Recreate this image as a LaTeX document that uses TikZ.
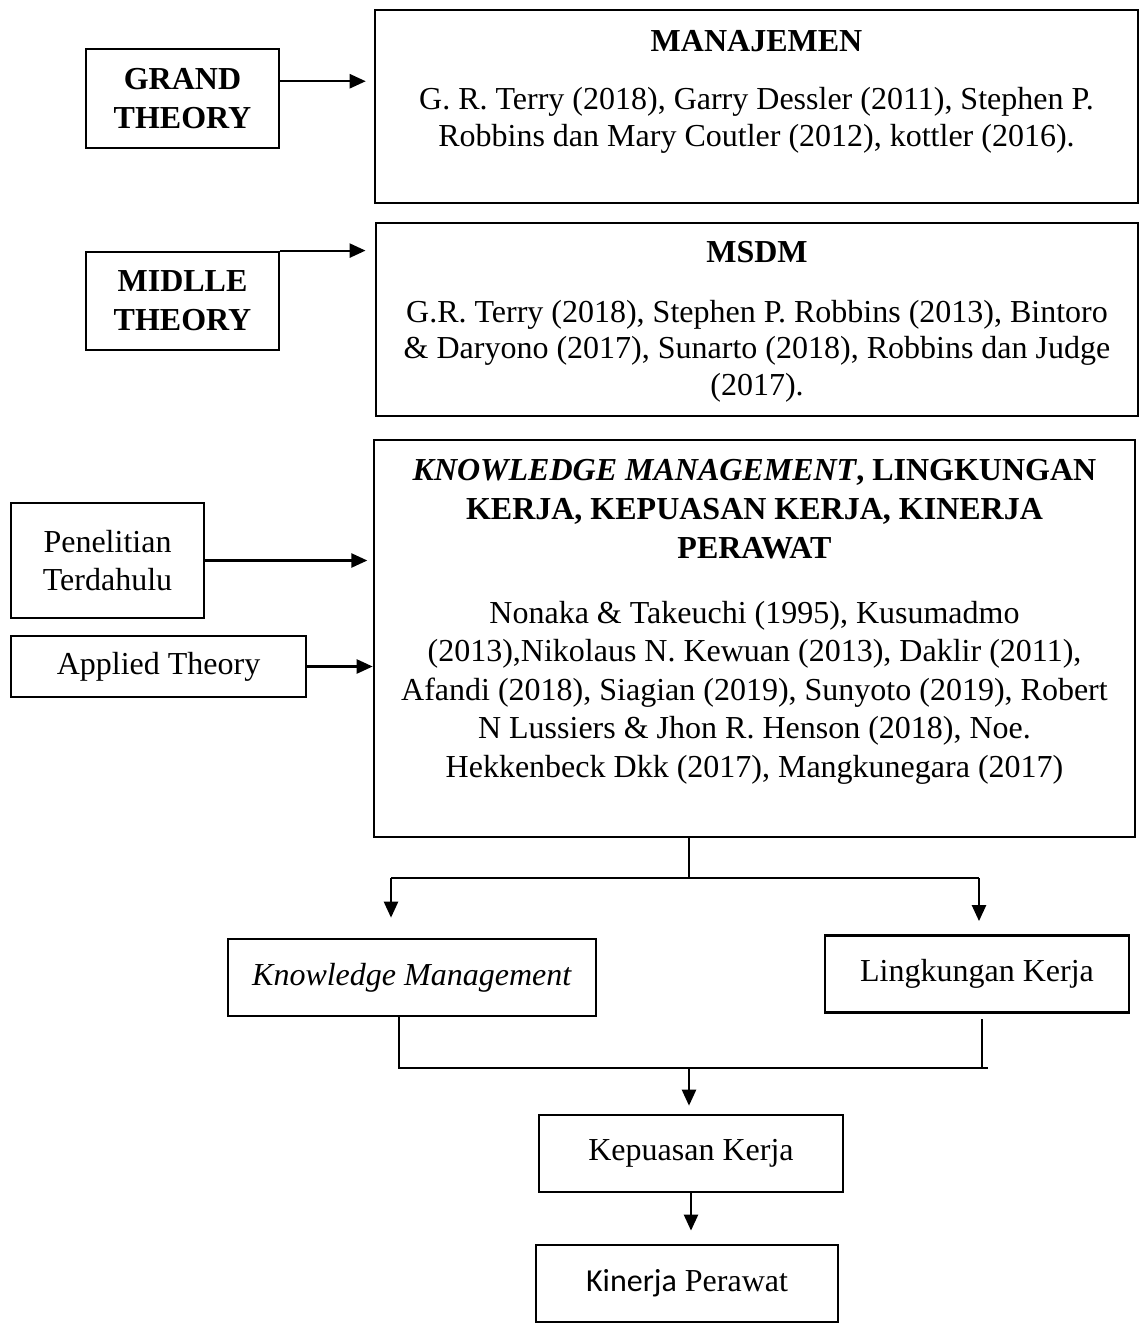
\documentclass[tikz,border=0pt]{standalone}
\usepackage{fontspec}
\setmainfont{Liberation Serif}
\newfontfamily\calibrifont{Carlito}
\usetikzlibrary{arrows.meta,calc}
\tikzstyle{box}=[draw,line width=1pt,inner sep=0pt,align=center,font=\fontsize{12}{14.5}\selectfont]
\tikzstyle{textblock}=[inner sep=0pt,align=center,anchor=base,font=\fontsize{12}{14}\selectfont]
\tikzstyle{link}=[draw,line width=0.8pt]
\tikzstyle{arrowlink}=[draw,line width=0.8pt,-{Triangle[length=6pt,width=5.3pt]}]

\begin{document}
\begin{tikzpicture}[x=0.375pt,y=-0.375pt]
    \useasboundingbox (0,0) rectangle (1140,1326);

    % theory levels on the left
    \node[box,minimum width=72.4pt,minimum height=37.1pt] (grand) at (182.5,98.5) {\textbf{GRAND}\\\textbf{THEORY}};
    \node[box,minimum width=72.4pt,minimum height=36.8pt] (midlle) at (182.5,301) {\textbf{MIDLLE}\\\textbf{THEORY}};
    \node[box,minimum width=72.4pt,minimum height=43.1pt] (penelitian) at (107.5,560.5) {Penelitian\\Terdahulu};
    \node[box,minimum width=110.6pt,minimum height=22.9pt] (applied) at (158.5,666.5) {Applied Theory};

    % theory boxes on the right (texts placed by their last baseline)
    \node[box,minimum width=286.1pt,minimum height=72.4pt] (manaj) at (756.5,106.5) {};
    \node[box,minimum width=285.8pt,minimum height=72.4pt] (msdm) at (757,319.5) {};
    \node[box,minimum width=285.4pt,minimum height=148.9pt] (km) at (754.5,638.5) {};

    \node[textblock] (manajtitle) at (756.5,52) {\textbf{MANAJEMEN}};
    \node[textblock,font=\fontsize{12}{13.9}\selectfont] (manajrefs) at (756.5,147) {G. R. Terry (2018), Garry Dessler (2011), Stephen P.\\Robbins dan Mary Coutler (2012), kottler (2016).};
    \node[textblock] (msdmtitle) at (757,263) {\textbf{MSDM}};
    \node[textblock,font=\fontsize{12}{13.6}\selectfont] (msdmrefs) at (757,395) {G.R. Terry (2018), Stephen P. Robbins (2013), Bintoro\\\& Daryono (2017), Sunarto (2018), Robbins dan Judge\\(2017).};
    \node[textblock,font=\fontsize{12}{14.6}\selectfont] (kmtitle) at (754.5,558) {\textbf{\textit{KNOWLEDGE MANAGEMENT}, LINGKUNGAN}\\\textbf{KERJA, KEPUASAN KERJA, KINERJA}\\\textbf{PERAWAT}};
    \node[textblock,font=\fontsize{12}{14.4}\selectfont] (kmrefs) at (754.5,777) {Nonaka \& Takeuchi (1995), Kusumadmo\\(2013),Nikolaus N. Kewuan (2013), Daklir (2011),\\Afandi (2018), Siagian (2019), Sunyoto (2019), Robert\\N Lussiers \& Jhon R. Henson (2018), Noe.\\Hekkenbeck Dkk (2017), Mangkunegara (2017)};

    % variables
    \foreach \pos/\name/\w/\txt in {{(412,977.5)/kmsmall/138pt/{\textit{Knowledge Management}}},
        {(977,974)/lingk/114pt/{Lingkungan Kerja}},
        {(691,1153.5)/kepuasan/114pt/{Kepuasan Kerja}},
        {(687,1283.5)/kinerja/113.3pt/{{\calibrifont Kinerja} Perawat}}}
        \node[box,minimum width=\w,minimum height=28.9pt] (\name) at \pos {\txt};

    \coordinate (split) at (689,878);
    \coordinate (kmdrop) at (391,878);
    \coordinate (lkdrop) at (979,878);
    \coordinate (kmup) at (399,1068);
    \coordinate (lkup) at (982,1068);
    \coordinate (join) at (689,1068);

    % arrows into the theory boxes
    \path[arrowlink,shorten >=3pt] (grand.10) -- (grand.10 -| manaj.west);
    \path[arrowlink,shorten >=3.4pt] (midlle.north east) -- (midlle.north east -| msdm.west);
    \path[arrowlink,shorten >=2pt] (penelitian.east) -- (penelitian.east -| km.west);
    \path[arrowlink] (applied.east) -- (applied.east -| km.west);

    % split and join
    \path[link] (km.south -| split) -- (split);
    \path[link] (kmdrop) -- (lkdrop);
    \path[arrowlink,shorten >=7.5pt] (kmdrop) -- (kmdrop |- kmsmall.north);
    \path[arrowlink,shorten >=4.9pt] (lkdrop) -- (lkdrop |- lingk.north);
    \path[link] (kmsmall.south -| kmup) -- (kmup) -- ([xshift=2.2pt]lkup);
    \path[link] ([yshift=-2pt]lingk.south -| lkup) -- (lkup);
    \path[arrowlink,shorten >=3pt] (join) -- (join |- kepuasan.north);
    \path[arrowlink,shorten >=4.9pt] (kepuasan.south) -- (kepuasan.south |- kinerja.north);
\end{tikzpicture}
\end{document}
